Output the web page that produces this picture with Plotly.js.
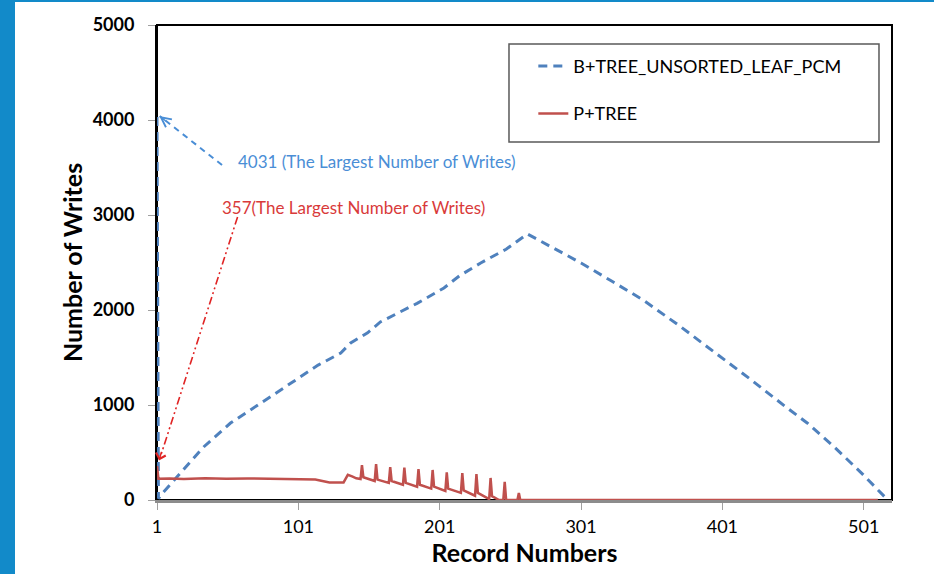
<!DOCTYPE html>
<html>
<head>
<meta charset="utf-8">
<script src="https://cdn.plot.ly/plotly-3.0.1.min.js"></script>
<style>
  html, body { margin: 0; padding: 0; background: #ffffff; }
  #chart { width: 934px; height: 574px; }
</style>
</head>
<body>
<div id="chart"></div>
<script>
// Series names
const nameB = 'B+TREE_UNSORTED_LEAF_PCM';
const nameP = 'P+TREE';

// B+TREE_UNSORTED_LEAF_PCM: record number -> number of writes
const recordB = [1, 2, 5, 20, 34, 53, 76, 97, 115, 131, 138, 150, 159, 168, 185, 204, 215, 230, 248, 263,
                 280, 301, 322, 345, 370, 395, 420, 445, 461, 480, 500, 518];
const writesB = [4031, 15, 74, 330, 558, 810, 1032, 1242, 1420, 1547, 1653, 1760, 1874, 1940, 2070, 2232, 2360, 2495, 2640, 2800,
                 2664, 2495, 2310, 2105, 1840, 1560, 1280, 990, 811, 560, 275, 0];

// P+TREE: record number -> number of writes
const recordP = [1, 2, 10, 20, 35, 50, 65, 80, 95, 105,
                 113, 118, 123, 133, 136, 139, 142, 145, 146, 147,
                 155, 156, 157, 165, 166, 167, 175, 176, 177, 185,
                 186, 187, 195, 196, 197, 205, 206, 207, 216, 217,
                 218, 226, 227, 228, 236, 237, 238, 243, 246, 247,
                 248, 256, 257, 258, 511];
const writesP = [357, 225, 226, 222, 230, 224, 227, 223, 226, 222,
                 215, 200, 185, 185, 265, 248, 228, 220, 368, 240,
                 200, 379, 215, 180, 347, 200, 160, 340, 180, 140,
                 326, 160, 120, 316, 140, 95, 290, 120, 75, 284,
                 100, 45, 274, 75, 10, 232, 40, 0, 0, 190,
                 0, 0, 74, 0, 0];

// Axis ticks
const xTicks = [1, 101, 201, 301, 401, 501];
const yTicks = [0, 1000, 2000, 3000, 4000, 5000];

const maxNote = ' (The Largest Number of Writes)';
const maxNoteP = '(The Largest Number of Writes)';

const FONT = 'Lato, "Open Sans", sans-serif';
const BLUE = '#4F81BD';
const RED = '#C0504D';
const FRAME_BLUE = '#128AC9';

const traces = [
  {
    x: recordB, y: writesB, name: nameB, type: 'scatter', mode: 'lines',
    legendgroup: 'b', cliponaxis: false,
    line: { color: BLUE, width: 3, dash: '9px,6px' }
  },
  {
    x: recordP, y: writesP, name: nameP, type: 'scatter', mode: 'lines',
    legendgroup: 'p', cliponaxis: false,
    line: { color: RED, width: 2.5 }
  }
];

const layout = {
  width: 934, height: 574,
  margin: { l: 157, r: 42, t: 25, b: 74 },
  paper_bgcolor: '#ffffff', plot_bgcolor: '#ffffff',
  font: { family: FONT, color: '#000000' },
  showlegend: true,
  legend: {
    x: 0.512, y: 0.952, xanchor: 'left', yanchor: 'top',
    bgcolor: 'rgba(0,0,0,0)', borderwidth: 0,
    font: { family: FONT, size: 18, color: '#000000' },
    tracegroupgap: 21
  },
  xaxis: {
    range: [1, 521], tickmode: 'array', tickvals: xTicks, ticktext: xTicks.map(String),
    ticks: 'outside', ticklen: 7, tickcolor: '#a0a0a0', tickwidth: 1,
    showline: true, linecolor: '#8c8c8c', linewidth: 3,
    showgrid: false, zeroline: false, layer: 'below traces',
    tickfont: { family: FONT, size: 18, color: '#000000' },
    ticklabelstandoff: 1,
    title: { text: 'Record Numbers', font: { family: FONT, size: 25, weight: 'bold', color: '#000000' }, standoff: 6 }
  },
  yaxis: {
    range: [0, 5000], tickmode: 'array', tickvals: yTicks, ticktext: yTicks.map(String),
    ticks: 'outside', ticklen: 7, tickcolor: '#a0a0a0', tickwidth: 1,
    showline: true, linecolor: '#000000', linewidth: 2,
    showgrid: false, zeroline: false, layer: 'below traces',
    tickfont: { family: FONT, size: 18, weight: 'bold', color: '#000000' },
    ticklabelstandoff: 10,
    title: { text: 'Number of Writes', font: { family: FONT, size: 25, weight: 'bold', color: '#000000' }, standoff: 3 }
  },
  shapes: [
    // page frame strips
    { type: 'rect', xref: 'paper', yref: 'paper', x0: -0.2136, x1: -0.1932, y0: -0.17, y1: 1.06,
      fillcolor: FRAME_BLUE, line: { width: 0 }, layer: 'below' },
    { type: 'rect', xref: 'paper', yref: 'paper', x0: -0.2136, x1: 1.06, y0: 1.0484, y1: 1.06,
      fillcolor: FRAME_BLUE, line: { width: 0 }, layer: 'below' },
    // plot area border
    { type: 'rect', xref: 'paper', yref: 'paper', x0: 0, x1: 1, y0: 0, y1: 1,
      line: { color: '#000000', width: 2 }, layer: 'below' },
    // legend box
    { type: 'rect', xref: 'paper', yref: 'paper', x0: 0.4789, x1: 0.9823, y0: 0.7537, y1: 0.96,
      line: { color: '#5a5a5a', width: 1.5 }, fillcolor: 'rgba(0,0,0,0)', layer: 'below' },
    // pointer to the B+TREE maximum
    { type: 'line', xref: 'x', yref: 'y', x0: 47, y0: 3526, x1: 3, y1: writesB[0] + 10,
      line: { color: '#4A8ED6', width: 2, dash: '6px,5px' } },
    // pointer to the P+TREE maximum
    { type: 'line', xref: 'x', yref: 'y', x0: 58, y0: 2979, x1: 3, y1: writesP[0] + 80,
      line: { color: '#E02424', width: 1.6, dash: '8px,3px,2px,3px,2px,3px' } }
  ],
  annotations: [
    { xref: 'x', yref: 'y', x: 57, y: 3568, xanchor: 'left', yanchor: 'middle', showarrow: false,
      text: writesB[0] + maxNote, font: { family: FONT, size: 17, color: '#4A8ED6' } },
    { xref: 'x', yref: 'y', x: 45.6, y: 3074, xanchor: 'left', yanchor: 'middle', showarrow: false,
      text: writesP[0] + maxNoteP, font: { family: FONT, size: 17, color: '#D93A3A' } },
    // arrow heads
    { xref: 'x', yref: 'y', x: 2.6, y: writesB[0] + 10, text: '', showarrow: true,
      arrowhead: 5, arrowsize: 1.3, arrowwidth: 1.5, arrowcolor: '#4A8ED6', ax: 8, ay: 6, standoff: 0 },
    { xref: 'x', yref: 'y', x: 2.4, y: writesP[0] + 60, text: '', showarrow: true,
      arrowhead: 4, arrowsize: 1.3, arrowwidth: 1.5, arrowcolor: '#E02424', ax: 3, ay: -10, standoff: 0 }
  ]
};

Plotly.newPlot('chart', traces, layout, { displayModeBar: false, responsive: false });
</script>
</body>
</html>
